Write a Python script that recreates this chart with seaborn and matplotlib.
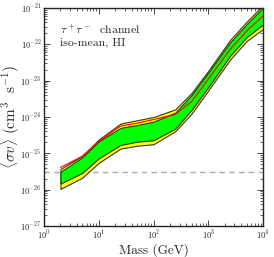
import numpy as np
import pandas as pd
import seaborn as sns
import matplotlib
matplotlib.use("Agg")
import matplotlib.pyplot as plt

# masses (GeV) and log10 of <sigma v> limits
mass = [2, 5, 10, 25, 50, 100, 250, 500, 1000, 2500, 5000, 10000]
yellow_hi = [-25.43, -25.07, -24.62, -24.18, -24.09, -24.00, -23.79, -23.33, -22.73, -21.88, -21.38, -20.92]
green_hi = [-25.51, -25.11, -24.67, -24.30, -24.22, -24.13, -23.88, -23.39, -22.78, -21.95, -21.45, -20.99]
green_lo = [-25.83, -25.54, -25.14, -24.77, -24.68, -24.64, -24.32, -23.80, -23.18, -22.32, -21.81, -21.45]
yellow_lo = [-25.98, -25.67, -25.26, -24.87, -24.79, -24.75, -24.39, -23.90, -23.27, -22.42, -21.91, -21.58]
red_line = [-25.39, -25.08, -24.67, -24.25, -24.17, -24.07, -23.93, -23.57, -22.96, -22.14, -21.64, -21.22]
thermal = 3e-26

df = pd.DataFrame({"mass": mass, "sv": 10 ** np.array(red_line)})

sns.set_style("ticks")
plt.rcParams["font.family"] = "cmr10"
plt.rcParams["mathtext.fontset"] = "cm"
plt.rcParams["axes.formatter.use_mathtext"] = True

fig = plt.figure(figsize=(2.74, 2.57), dpi=100)
ax = fig.add_axes([0.1606, 0.1206, 0.7993, 0.8483])

ax.fill_between(mass, 10 ** np.array(yellow_lo), 10 ** np.array(yellow_hi),
                facecolor="#ffff00", edgecolor="#333333", linewidth=0.8, zorder=2)
ax.fill_between(mass, 10 ** np.array(green_lo), 10 ** np.array(green_hi),
                facecolor="#00ff00", edgecolor="#333333", linewidth=0.8, zorder=3)
sns.lineplot(data=df, x="mass", y="sv", color="red", linewidth=0.8, ax=ax, zorder=4)
ax.axhline(thermal, color="#aaaaaa", linestyle="--", linewidth=1.0, dashes=(4, 3), zorder=1)

ax.set_xscale("log")
ax.set_yscale("log")
ax.set_xlim(1, 1e4)
ax.set_ylim(1e-27, 1e-21)

ax.tick_params(which="both", direction="in", top=True, right=True, labelsize=6, pad=2)
ax.tick_params(which="major", length=4, width=0.6)
ax.tick_params(which="minor", length=2, width=0.5)
for s in ax.spines.values():
    s.set_linewidth(1.0)
    s.set_color("#222222")

ax.set_xlabel("Mass (GeV)", fontsize=9.5, labelpad=1)
ax.set_ylabel(r"$\langle\sigma v\rangle\ (\mathrm{cm}^3\ \ \mathrm{s}^{-1})$", fontsize=11)
ax.yaxis.set_label_coords(-0.10, 0.5)

ax.text(0.075, 0.88, r"$\tau^+\tau^-$  channel", transform=ax.transAxes, fontsize=8.5)
ax.text(0.075, 0.825, "iso-mean, HI", transform=ax.transAxes, fontsize=8.5)

fig.savefig("out.png", dpi=100)
